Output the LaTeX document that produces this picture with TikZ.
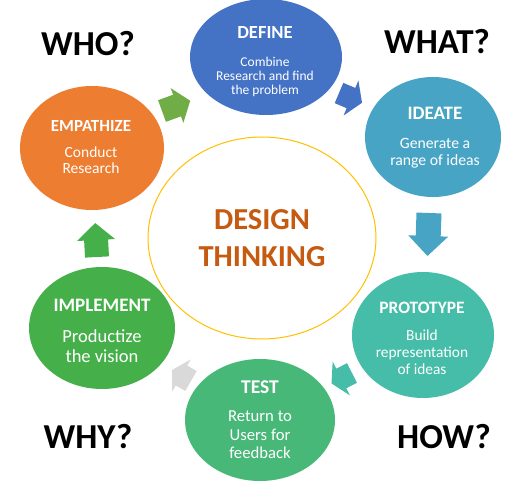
\documentclass[tikz,border=0pt]{standalone}
\usepackage{fontspec}
\setmainfont{Carlito}
\usetikzlibrary{shapes.geometric}
\definecolor{cDefine}{HTML}{4472C4}
\definecolor{cIdeate}{HTML}{47A4C4}
\definecolor{cProto}{HTML}{45BDA8}
\definecolor{cTest}{HTML}{47B878}
\definecolor{cImpl}{HTML}{45B049}
\definecolor{cEmp}{HTML}{ED7D31}
\definecolor{cArrGreen}{HTML}{70AD47}
\definecolor{cGray}{HTML}{D9D9D9}
\definecolor{cCenter}{HTML}{C55A11}
\definecolor{cRing}{HTML}{FFC000}
% tail centre x, y, angle, shaft length, head length, shaft width, head width, colour
\newcommand\blockarrow[8]{%
  \fill[#8, shift={(#1,#2)}, rotate=#3]
    (0,-#6/2) -- (#4,-#6/2) -- (#4,-#7/2) -- ({#4+#5},0) -- (#4,#7/2) -- (#4,#6/2) -- (0,#6/2) -- cycle;}
\tikzset{
  phase/.style={ellipse, inner sep=0pt, draw=none},
  ttl/.style={text=white, font=\bfseries\fontsize{#1}{#1}\selectfont, inner sep=0pt},
  sub/.style={text=white, align=center, inner sep=0pt},
  big/.style={text=black, font=\bfseries\fontsize{35}{35}\selectfont, inner sep=0pt},
}
\begin{document}
\begin{tikzpicture}[x=1pt,y=-1pt]
\useasboundingbox (0,0) rectangle (530,489);
% centre
\node[ellipse, draw=cRing, line width=1pt, minimum width=228pt, minimum height=202pt, inner sep=0pt] (centre) at (262,238) {};
\node[text=cCenter, font=\bfseries\fontsize{30.5}{37}\selectfont, align=center, inner sep=0pt] (centreT) at (262,238) {DESIGN\\THINKING};
% phases
\node[phase, fill=cDefine, minimum width=152pt, minimum height=116pt] (define) at (266,57) {};
\node[phase, fill=cIdeate, minimum width=136pt, minimum height=120pt] (ideate) at (433,137) {};
\node[phase, fill=cProto, minimum width=142pt, minimum height=126pt] (proto) at (423,335) {};
\node[phase, fill=cTest, minimum width=150pt, minimum height=122pt] (test) at (260,420) {};
\node[phase, fill=cImpl, minimum width=146pt, minimum height=122pt] (impl) at (102,328) {};
\node[phase, fill=cEmp, minimum width=144pt, minimum height=124pt] (emp) at (92,148) {};
% texts
\node[ttl=18.5] (defineT) at (265,33) {DEFINE};
\node[sub, font=\fontsize{13.5}{14.3}\selectfont] (defineS) at (265,77) {Combine\\Research and find\\the problem};
\node[ttl=19] (ideateT) at (435,113) {IDEATE};
\node[sub, font=\fontsize{15.7}{17}\selectfont] (ideateS) at (435,153) {Generate a\\range of ideas};
\node[ttl=17.4] (protoT) at (422,308) {PROTOTYPE};
\node[sub, font=\fontsize{15.4}{17}\selectfont] (protoS) at (422,352) {Build\\representation\\of ideas};
\node[ttl=19.5] (testT) at (260,387) {TEST};
\node[sub, font=\fontsize{16.7}{18.5}\selectfont] (testS) at (260,435) {Return to\\Users for\\feedback};
\node[ttl=19] (implT) at (102,305) {IMPLEMENT};
\node[sub, font=\fontsize{18.5}{20}\selectfont] (implS) at (102,346) {Productize\\the vision};
\node[ttl=17] (empT) at (91,126) {EMPATHIZE};
\node[sub, font=\fontsize{15.5}{16}\selectfont] (empS) at (91,160) {Conduct\\Research};
% corner labels
\node[big] (who) at (88,44) {WHO?};
\node[big] (what) at (437,42) {WHAT?};
\node[big] (why) at (88,437) {WHY?};
\node[big] (how) at (444,437) {HOW?};
% arrows
\blockarrow{162}{111}{20}{16}{14}{23}{37}{cArrGreen}
\blockarrow{339}{93}{-23}{13}{12}{22}{38}{cDefine}
\blockarrow{429}{213}{-92}{23}{20}{25}{40}{cIdeate}
\blockarrow{352}{373}{207}{12}{11}{22}{38}{cProto}
\blockarrow{191}{381}{150}{11}{11}{23}{37}{cGray}
\blockarrow{97}{257}{93}{17}{17}{24}{38}{cImpl}
\end{tikzpicture}
\end{document}
